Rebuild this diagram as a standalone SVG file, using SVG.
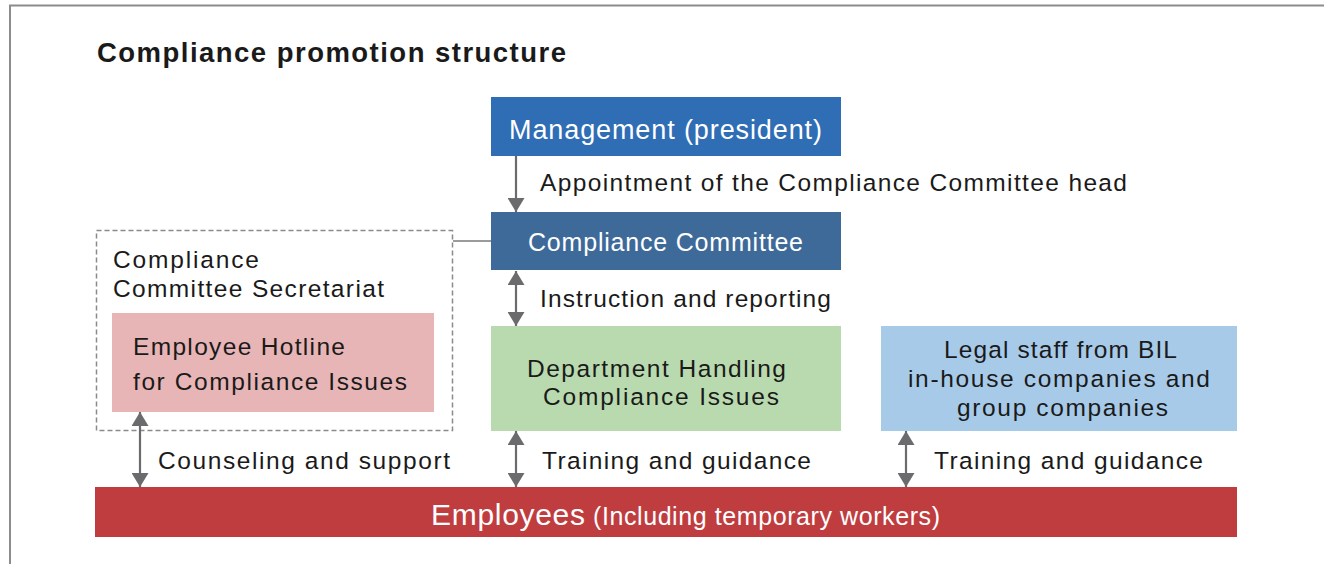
<svg xmlns="http://www.w3.org/2000/svg" width="1324" height="564" viewBox="0 0 1324 564">
<defs>
<style>
.t{font-family:"Liberation Sans",Arial,sans-serif;font-size:24.5px;fill:#1a1a1a}
.w{fill:#ffffff}
.conn{stroke:#6b6b6d;stroke-width:2.2;fill:none}
.frame{stroke:#8c8c8c;stroke-width:2;fill:none}
</style>
<marker id="ah" viewBox="0 0 14 17" refX="14" refY="8.5" markerWidth="14" markerHeight="17" markerUnits="userSpaceOnUse" orient="auto-start-reverse">
<path d="M0,0 L14,8.5 L0,17 z" fill="#6b6b6d"/>
</marker>
</defs>
<rect x="0" y="0" width="1324" height="564" fill="#ffffff"/>
<path class="frame" d="M10,564 V5.5 H1324"/>
<text x="97" y="62" style="font-family:'Liberation Sans',Arial,sans-serif;font-size:27.5px;font-weight:bold;fill:#1a1a1a" textLength="469">Compliance promotion structure</text>

<g id="secretariat">
<rect x="96.5" y="230.5" width="356" height="200" fill="none" stroke="#8a8a8a" stroke-width="1.5" stroke-dasharray="5,3"/>
<text class="t" x="113" y="268" textLength="146">Compliance</text>
<text class="t" x="113" y="297" textLength="271">Committee Secretariat</text>
</g>
<g id="hotline">
<rect x="112" y="313" width="322" height="99" fill="#e8b5b6"/>
<text class="t" x="133" y="355" textLength="212">Employee Hotline</text>
<text class="t" x="133" y="390" textLength="274">for Compliance Issues</text>
</g>
<g id="management">
<rect x="491" y="97" width="350" height="59" fill="#2f6db5"/>
<text class="t w" x="509" y="139" style="font-size:27px" textLength="313">Management (president)</text>
</g>
<g id="committee">
<rect x="491" y="212" width="350" height="58" fill="#3e6a9a"/>
<text class="t w" x="528" y="251" style="font-size:25px" textLength="275">Compliance Committee</text>
</g>
<g id="department">
<rect x="491" y="326" width="350" height="105" fill="#b9daaf"/>
<text class="t" x="527" y="377" textLength="259">Department Handling</text>
<text class="t" x="543" y="405" textLength="236">Compliance Issues</text>
</g>
<g id="legal">
<rect x="881" y="326" width="356" height="105" fill="#a8cae9"/>
<text class="t" x="944" y="358" textLength="233">Legal staff from BIL</text>
<text class="t" x="908" y="387" textLength="302">in-house companies and</text>
<text class="t" x="957" y="416" textLength="211">group companies</text>
</g>
<g id="employees">
<rect x="95" y="487" width="1142" height="50" fill="#bf3d3f"/>
<text class="t w" x="431" y="525" style="font-size:30px" textLength="154">Employees</text>
<text class="t w" x="593" y="525" style="font-size:25px" textLength="347">(Including temporary workers)</text>
</g>

<g id="connectors">
<line class="conn" x1="453" y1="241" x2="491" y2="241" style="stroke-width:1.5;stroke:#7a7a7a"/>
<line class="conn" x1="516" y1="156" x2="516" y2="212" marker-end="url(#ah)"/>
<line class="conn" x1="516" y1="271" x2="516" y2="326" marker-start="url(#ah)" marker-end="url(#ah)"/>
<line class="conn" x1="140" y1="412" x2="140" y2="487" marker-start="url(#ah)" marker-end="url(#ah)"/>
<line class="conn" x1="516" y1="431" x2="516" y2="487" marker-start="url(#ah)" marker-end="url(#ah)"/>
<line class="conn" x1="906" y1="431" x2="906" y2="487" marker-start="url(#ah)" marker-end="url(#ah)"/>
</g>

<g id="labels">
<text class="t" x="540" y="191" textLength="587">Appointment of the Compliance Committee head</text>
<text class="t" x="540" y="307" textLength="291">Instruction and reporting</text>
<text class="t" x="158" y="469" textLength="292">Counseling and support</text>
<text class="t" x="542" y="469" textLength="269">Training and guidance</text>
<text class="t" x="934" y="469" textLength="269">Training and guidance</text>
</g>
</svg>
